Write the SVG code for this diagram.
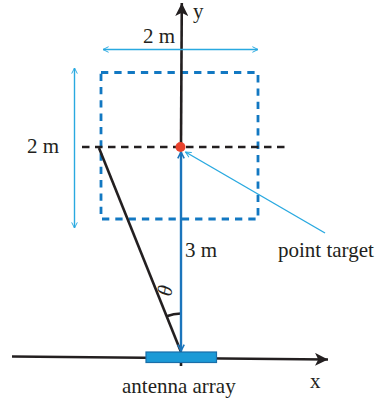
<svg xmlns="http://www.w3.org/2000/svg" width="382" height="404" viewBox="0 0 382 404">
<style>
text{font-family:"Liberation Serif","Times New Roman",serif;font-size:21px;fill:#231f20}
.blk{stroke:#231f20;stroke-width:2.6;fill:none}
.lb{stroke:#29a9e0;stroke-width:1.4;fill:none}
.db{stroke:#1b75bc;stroke-width:2.4;fill:none}
</style>
<defs>
<marker id="openL" viewBox="0 0 10 10" refX="9" refY="5" markerWidth="7" markerHeight="7" markerUnits="userSpaceOnUse" orient="auto-start-reverse">
<path d="M1,1 L9,5 L1,9" fill="none" stroke="#29a9e0" stroke-width="1.4"/>
</marker>
<marker id="openD" viewBox="0 0 10 10" refX="9" refY="5" markerWidth="8" markerHeight="8" markerUnits="userSpaceOnUse" orient="auto-start-reverse">
<path d="M1,1 L9,5 L1,9" fill="none" stroke="#1b75bc" stroke-width="2"/>
</marker>
<marker id="blkArrow" viewBox="0 0 12 12" refX="12" refY="6" markerWidth="13" markerHeight="13" markerUnits="userSpaceOnUse" orient="auto">
<path d="M0,0 L12,6 L0,12 L3,6 Z" fill="#231f20"/>
</marker>
</defs>

<g id="dashed-region">
<rect x="101" y="72.5" width="157" height="146.5" fill="none" stroke="#1278c2" stroke-width="2.8" stroke-dasharray="7.3 6"/>
</g>

<g id="connectors">
<line class="blk" x1="82" y1="147" x2="290" y2="147" stroke-dasharray="7.5 5.5"/>
<line class="blk" x1="181" y1="146" x2="181.8" y2="3" marker-end="url(#blkArrow)"/>
<line class="blk" x1="12" y1="356.5" x2="328" y2="359.5" marker-end="url(#blkArrow)"/>
<line class="blk" x1="181" y1="361" x2="181" y2="366" stroke-width="2"/>
<line class="blk" x1="99" y1="148" x2="181" y2="352"/>
<path class="blk" stroke-width="2" d="M166.6,316.3 A38.5,38.5 0 0 1 181,313.5"/>
<line class="db" x1="181" y1="152" x2="181" y2="351" marker-start="url(#openD)" marker-end="url(#openD)"/>
<line class="lb" x1="103" y1="49.5" x2="258" y2="49.5" marker-start="url(#openL)" marker-end="url(#openL)"/>
<line class="lb" x1="74.5" y1="68" x2="74.5" y2="228" marker-start="url(#openL)" marker-end="url(#openL)"/>
<line class="lb" stroke-width="1.2" x1="185.5" y1="152" x2="325" y2="233" marker-start="url(#openL)"/>
</g>

<g id="point-target">
<circle cx="180.5" cy="147" r="5" fill="#e8412c"/>
</g>

<g id="antenna">
<rect x="146" y="352" width="70.5" height="10.5" fill="#1b9ad6" stroke="#1a6ea8" stroke-width="1.2"/>
</g>

<g id="labels">
<text x="193" y="18" font-size="20">y</text>
<text x="143" y="43">2 m</text>
<text x="27" y="153">2 m</text>
<text x="185" y="257">3 m</text>
<text x="278" y="257">point target</text>
<text x="122" y="393">antenna array</text>
<text x="310" y="388">x</text>
<text transform="translate(167,291) rotate(-80)" text-anchor="middle" dy="5" font-style="italic" font-size="17">θ</text>
</g>
</svg>
